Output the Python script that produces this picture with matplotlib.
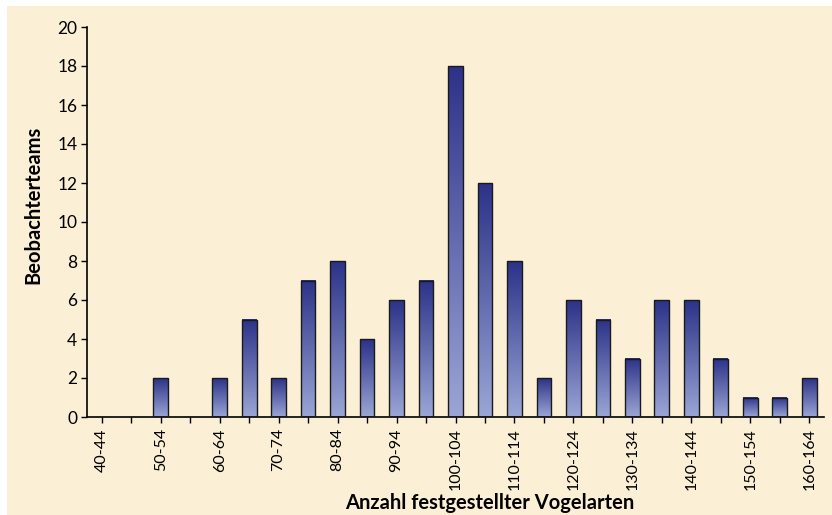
import numpy as np
import matplotlib.pyplot as plt
from matplotlib.colors import LinearSegmentedColormap
from matplotlib.patches import Rectangle

# data
bins = ["40-44", "45-49", "50-54", "55-59", "60-64", "65-69", "70-74", "75-79",
        "80-84", "85-89", "90-94", "95-99", "100-104", "105-109", "110-114",
        "115-119", "120-124", "125-129", "130-134", "135-139", "140-144",
        "145-149", "150-154", "155-159", "160-164"]
teams = [0, 0, 2, 0, 2, 5, 2, 7, 8, 4, 6, 7, 18, 12, 8, 2, 6, 5, 3, 6, 6, 3, 1, 1, 2]
y_ticks = [0, 2, 4, 6, 8, 10, 12, 14, 16, 18, 20]

bg = "#fbf0d6"
plt.rcParams["font.family"] = ["Lato", "DejaVu Sans"]

fig = plt.figure(figsize=(8.32, 5.15), dpi=100)
fig.patch.set_facecolor("white")
# beige panel, white margin on top and left
fig.patches.append(Rectangle((7 / 832, 0), 1, 1 - 6 / 515, transform=fig.transFigure,
                             facecolor=bg, edgecolor="none", zorder=-10))

ax = fig.add_axes([87 / 832, 98 / 515, 737 / 832, 390 / 515])
ax.patch.set_alpha(0)

cmap = LinearSegmentedColormap.from_list("bar", ["#9ba6d6", "#2c3288"])
grad = np.linspace(0, 1, 256).reshape(-1, 1)
w = 0.5
x = np.arange(len(bins))
for xi, h in zip(x, teams):
    if h <= 0:
        continue
    ax.imshow(grad, cmap=cmap, origin="lower", aspect="auto",
              extent=[xi - w / 2, xi + w / 2, 0, h], zorder=2)
ax.bar(x, teams, width=w, facecolor="none", edgecolor="#1a1a1a",
       linewidth=1.0, zorder=3)

ax.set_xlim(-0.5, len(bins) - 0.5)
ax.set_ylim(0, 20)
ax.set_yticks(y_ticks)
ax.set_yticklabels([str(v) for v in y_ticks], fontsize=12.5)
ax.set_xticks(x)
ax.set_xticklabels([b if i % 2 == 0 else "" for i, b in enumerate(bins)],
                   rotation=90, fontsize=11.5)
ax.tick_params(axis="both", direction="out", length=4, width=1, color="black")
ax.tick_params(axis="x", pad=4)
ax.tick_params(axis="y", pad=3)

for s in ["top", "right"]:
    ax.spines[s].set_visible(False)
for s in ["left", "bottom"]:
    ax.spines[s].set_linewidth(1.2)

fig.text(490 / 832, 1 - 503 / 515, "Anzahl festgestellter Vogelarten", fontsize=14.5,
         fontweight="bold", ha="center", va="center")
fig.text(33 / 832, 1 - 205 / 515, "Beobachterteams", fontsize=14.5, fontweight="bold",
         rotation=90, ha="center", va="center")

fig.savefig("out.png", dpi=100, facecolor=fig.get_facecolor())
